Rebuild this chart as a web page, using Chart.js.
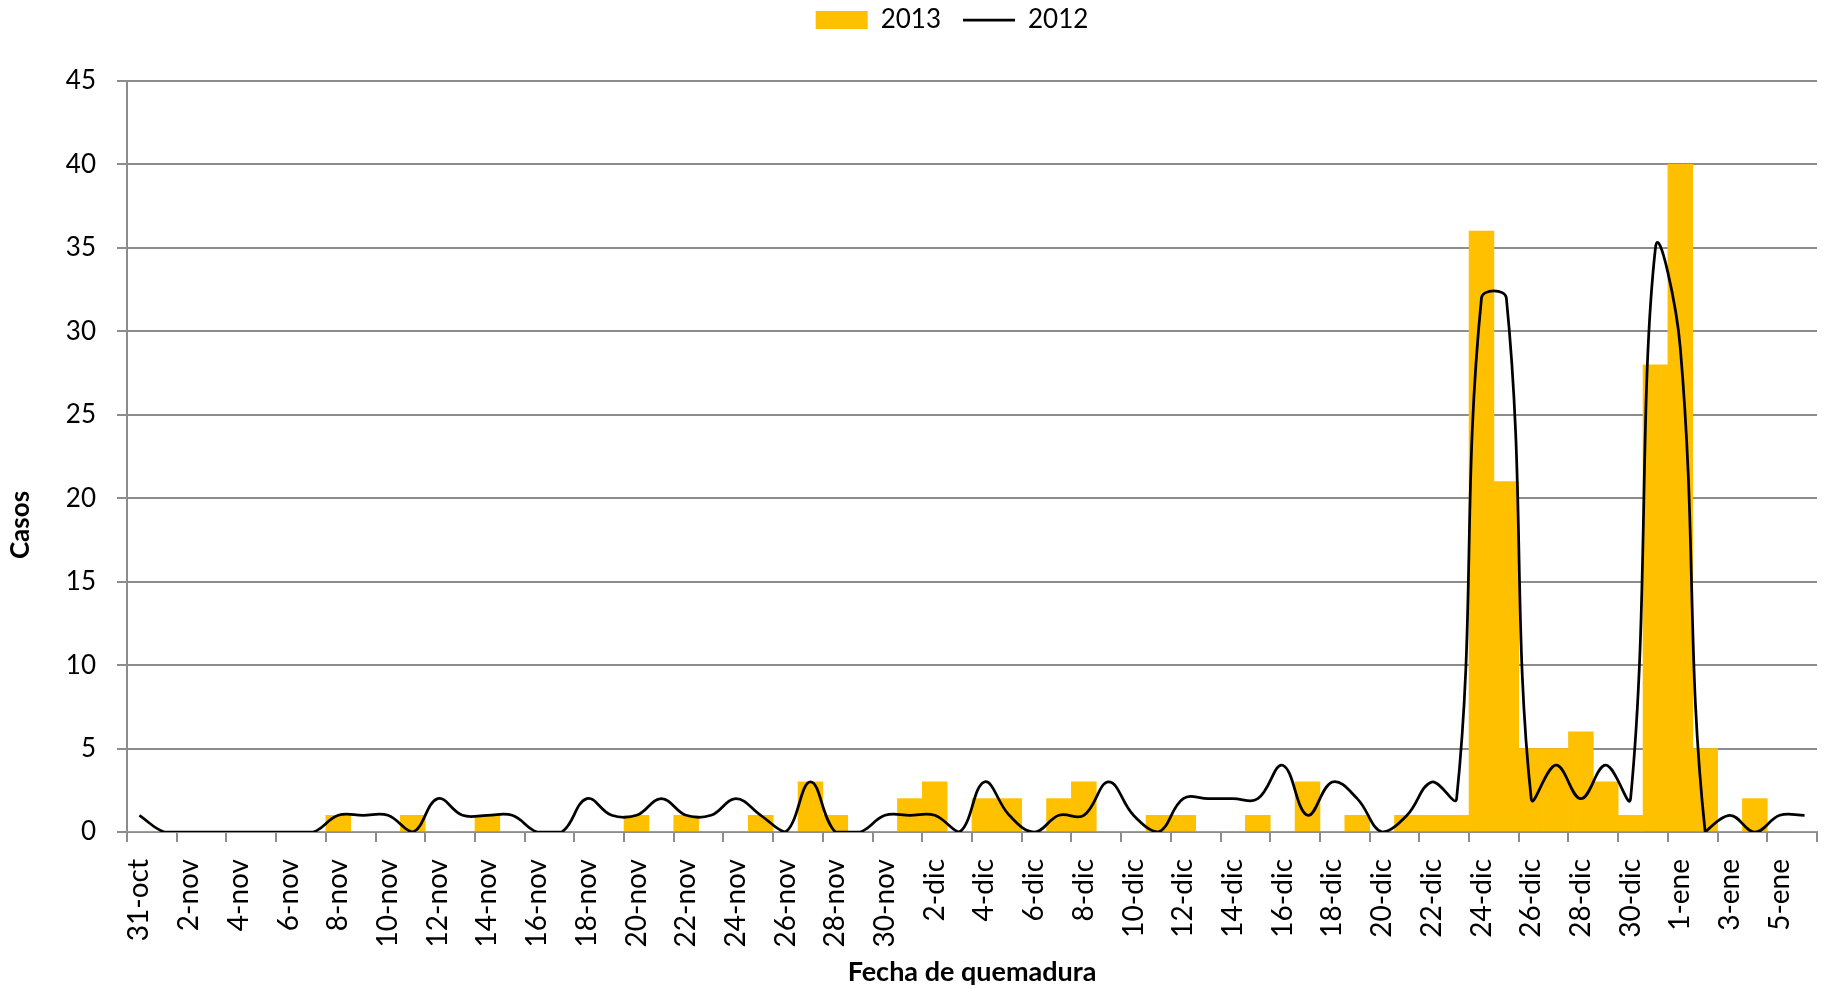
<!DOCTYPE html>
<html>
<head>
<meta charset="utf-8">
<script src="https://cdn.jsdelivr.net/npm/chart.js@4/dist/chart.umd.min.js"></script>
<style>
  html, body { margin: 0; padding: 0; background: #fff; }
  #wrap { width: 1826px; height: 988px; position: relative; }
</style>
</head>
<body>
<div id="wrap"><canvas id="chart"></canvas></div>
<script>
// one category per day, 31-oct to 6-ene
const days = [
    "31-oct",
    "1-nov", "2-nov", "3-nov", "4-nov", "5-nov", "6-nov", "7-nov", "8-nov", "9-nov", "10-nov",
    "11-nov", "12-nov", "13-nov", "14-nov", "15-nov", "16-nov", "17-nov", "18-nov", "19-nov", "20-nov",
    "21-nov", "22-nov", "23-nov", "24-nov", "25-nov", "26-nov", "27-nov", "28-nov", "29-nov", "30-nov",
    "1-dic", "2-dic", "3-dic", "4-dic", "5-dic", "6-dic", "7-dic", "8-dic", "9-dic", "10-dic",
    "11-dic", "12-dic", "13-dic", "14-dic", "15-dic", "16-dic", "17-dic", "18-dic", "19-dic", "20-dic",
    "21-dic", "22-dic", "23-dic", "24-dic", "25-dic", "26-dic", "27-dic", "28-dic", "29-dic", "30-dic",
    "31-dic", "1-ene", "2-ene", "3-ene", "4-ene", "5-ene", "6-ene"
];

const cases2013 = [
    0,
    0, 0, 0, 0, 0, 0, 0, 1, 0, 0,
    1, 0, 0, 1, 0, 0, 0, 0, 0, 1,
    0, 1, 0, 0, 1, 0, 3, 1, 0, 0,
    2, 3, 0, 2, 2, 0, 2, 3, 0, 0,
    1, 1, 0, 0, 1, 0, 3, 0, 1, 0,
    1, 1, 1, 36, 21, 5, 5, 6, 3, 1,
    28, 40, 5, 0, 2, 0, 0
];

const cases2012 = [
    1,
    0, 0, 0, 0, 0, 0, 0, 1, 1, 1,
    0, 2, 1, 1, 1, 0, 0, 2, 1, 1,
    2, 1, 1, 2, 1, 0, 3, 0, 0, 1,
    1, 1, 0, 3, 1, 0, 1, 1, 3, 1,
    0, 2, 2, 2, 2, 4, 1, 3, 2, 0,
    1, 3, 2, 32, 32, 2, 4, 2, 4, 2,
    35, 29, 0, 1, 0, 1, 1
];

const yMax = 45;
const yStep = 5;

const GRID = "#8c8c8c";
const FONT = 'Lato, "Open Sans", sans-serif';
const LEGEND_PAD = 22;

Chart.defaults.font.family = FONT;
Chart.defaults.color = "#000";

// fixed room for the legend above the plot, and nudge it a bit left like Excel
const legendSpace = {
    id: "legendSpace",
    beforeInit(chart) {
        const fit = chart.legend.fit;
        chart.legend.fit = function () {
            fit.call(this);
            this.height = 74 + LEGEND_PAD;
        };
    },
    afterLayout(chart) {
        chart.legend.left -= 20;
        chart.legend.right -= 20;
    }
};

// Excel puts the y title a bit below the plot's middle
const yTitle = {
    id: "yTitle",
    afterDraw(chart) {
        const ctx = chart.ctx;
        ctx.save();
        ctx.translate(21, 525);
        ctx.rotate(-Math.PI / 2);
        ctx.font = "bold 26px " + FONT;
        ctx.fillStyle = "#000";
        ctx.textAlign = "center";
        ctx.textBaseline = "middle";
        ctx.fillText("Casos", 0, 0);
        ctx.restore();
    }
};

new Chart(document.getElementById("chart"), {
    type: "bar",
    data: {
        labels: days,
        datasets: [{
            label: "2013",
            data: cases2013,
            backgroundColor: "#FFC000",
            borderWidth: 0,
            categoryPercentage: 1,
            barPercentage: 1,
            pointStyle: "rect",
            order: 1
        }, {
            type: "line",
            label: "2012",
            data: cases2012,
            borderColor: "#000",
            backgroundColor: "#000",
            borderWidth: 2.75,
            pointRadius: 0,
            pointStyle: "line",
            tension: 0.4,
            fill: false,
            order: 0
        }]
    },
    options: {
        responsive: true,
        maintainAspectRatio: false,
        animation: false,
        // negative top so the legend's item padding doesn't push the items down
        layout: { padding: { top: 7 - LEGEND_PAD, left: 0, right: 9, bottom: 0 } },
        scales: {
            x: {
                afterFit: scale => {
                    scale.height = 156;
                    scale.paddingLeft = 0;
                    scale.paddingRight = 0;
                },
                grid: {
                    offset: true,
                    drawOnChartArea: false,
                    tickLength: 10,
                    lineWidth: 2,
                    color: c => (c.index === undefined || c.index % 2 === 0) ? GRID : "rgba(0,0,0,0)"
                },
                border: { color: GRID, width: 2 },
                ticks: {
                    autoSkip: false,
                    minRotation: 90,
                    maxRotation: 90,
                    padding: 17,
                    font: { size: 28 },
                    callback: function (value, index) {
                        return index % 2 === 0 ? this.getLabelForValue(value) : "";
                    }
                },
                title: {
                    display: true,
                    text: "Fecha de quemadura",
                    font: { size: 27, weight: "bold" },
                    padding: { top: 0, bottom: 0 }
                }
            },
            y: {
                min: 0,
                max: yMax,
                afterFit: scale => { scale.width = 127; },
                grid: { color: GRID, lineWidth: 2, tickLength: 10 },
                border: { color: GRID, width: 2 },
                ticks: {
                    stepSize: yStep,
                    padding: 21,
                    font: { size: 26 }
                }
            }
        },
        plugins: {
            legend: {
                position: "top",
                fullSize: false,
                labels: {
                    usePointStyle: true,
                    pointStyleWidth: 52,
                    boxHeight: 18,
                    padding: LEGEND_PAD,
                    font: { size: 26 },
                    sort: (a, b) => a.datasetIndex - b.datasetIndex
                }
            },
            tooltip: { enabled: false }
        }
    },
    plugins: [legendSpace, yTitle]
});
</script>
</body>
</html>
